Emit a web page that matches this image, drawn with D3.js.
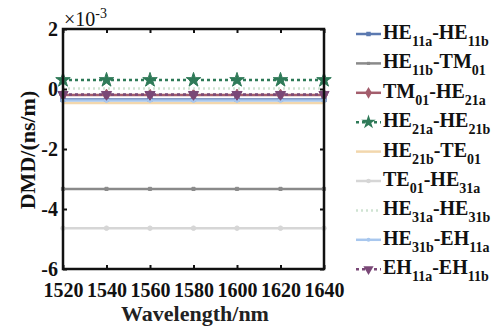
<!DOCTYPE html>
<html>
<head>
<meta charset="utf-8">
<script src="https://cdn.jsdelivr.net/npm/d3@7"></script>
</head>
<body style="margin:0">
<svg id="chart" width="495" height="330"></svg>
<script>
// wavelength samples (nm) and DMD values (x1e-3 ns/m)
var wavelengths = [1520, 1540, 1560, 1580, 1600, 1620, 1640];
var he11aHe11b = [-0.35, -0.35, -0.35, -0.35, -0.35, -0.35, -0.35];
var he11bTm01 = [-3.33, -3.33, -3.33, -3.33, -3.33, -3.33, -3.33];
var tm01He21a = [-0.2, -0.2, -0.2, -0.2, -0.2, -0.2, -0.2];
var he21aHe21b = [0.3, 0.3, 0.3, 0.3, 0.3, 0.3, 0.3];
var he21bTe01 = [-0.47, -0.47, -0.47, -0.47, -0.47, -0.47, -0.47];
var te01He31a = [-4.64, -4.64, -4.64, -4.64, -4.64, -4.64, -4.64];
var he31aHe31b = [0.02, 0.02, 0.02, 0.02, 0.02, 0.02, 0.02];
var he31bEh11a = [-0.38, -0.38, -0.38, -0.38, -0.38, -0.38, -0.38];
var eh11aEh11b = [-0.18, -0.18, -0.18, -0.18, -0.18, -0.18, -0.18];

// legend names as [mode, subscript, mode, subscript]
var seriesNames = [
  ["HE", "11a", "HE", "11b"],
  ["HE", "11b", "TM", "01"],
  ["TM", "01", "HE", "21a"],
  ["HE", "21a", "HE", "21b"],
  ["HE", "21b", "TE", "01"],
  ["TE", "01", "HE", "31a"],
  ["HE", "31a", "HE", "31b"],
  ["HE", "31b", "EH", "11a"],
  ["EH", "11a", "EH", "11b"]
];
var seriesValues = [he11aHe11b, he11bTm01, tm01He21a, he21aHe21b, he21bTe01,
  te01He31a, he31aHe31b, he31bEh11a, eh11aEh11b];
var yTicks = [-6, -4, -2, 0, 2];

var FONT = "'Liberation Serif'";

var styles = [
  { color: "#5b79b0", dash: null, marker: d3.symbolSquare, size: 20, rot: 0 },
  { color: "#8a8a8a", dash: null, marker: d3.symbolSquare, size: 10, rot: 0 },
  { color: "#a35d6c", dash: null, marker: d3.symbolDiamond, size: 40, rot: 0 },
  { color: "#2f7a58", dash: "3,3", marker: d3.symbolStar, size: 65, rot: 0 },
  { color: "#f2d7ad", dash: null, marker: null, size: 0, rot: 0 },
  { color: "#d6d6d6", dash: null, marker: d3.symbolCircle, size: 16, rot: 0 },
  { color: "#cfe3d2", dash: "2,3", marker: null, size: 0, rot: 0 },
  { color: "#a8c7ee", dash: null, marker: d3.symbolCircle, size: 12, rot: 0 },
  { color: "#7a4877", dash: "3,3", marker: d3.symbolTriangle, size: 45, rot: 180 }
];

var margin = { top: 29, right: 171, bottom: 61, left: 63 },
  width = 495 - margin.left - margin.right,
  height = 330 - margin.top - margin.bottom;

var svg = d3.select("#chart");
var g = svg.append("g")
  .attr("transform", "translate(" + margin.left + "," + margin.top + ")");

var x = d3.scaleLinear().domain([1520, 1640]).range([0, width]);
var y = d3.scaleLinear().domain([-6, 2]).range([height, 0]);

var line = d3.line()
  .x(function (d) { return x(d[0]); })
  .y(function (d) { return y(d[1]); });

seriesValues.forEach(function (vals, i) {
  var st = styles[i];
  var pts = wavelengths.map(function (w, j) { return [w, vals[j]]; });
  g.append("path")
    .datum(pts)
    .attr("d", line)
    .style("fill", "none")
    .style("stroke", st.color)
    .style("stroke-width", 2.5)
    .style("stroke-dasharray", st.dash);
  if (st.marker) {
    g.selectAll(".m" + i)
      .data(pts)
      .enter()
      .append("path")
      .attr("class", "m" + i)
      .attr("d", d3.symbol().type(st.marker).size(st.size))
      .attr("transform", function (d) {
        return "translate(" + x(d[0]) + "," + y(d[1]) + ") rotate(" + st.rot + ")";
      })
      .style("fill", st.color)
      .style("stroke", st.color)
      .style("stroke-width", 1);
  }
});

// axes with inward ticks
var xAxis = g.append("g")
  .attr("transform", "translate(0," + height + ")")
  .call(d3.axisBottom(x).tickValues(wavelengths).tickSizeInner(-4).tickSizeOuter(0).tickFormat(d3.format("d")));
xAxis.selectAll("text").attr("y", 28).attr("dy", 0);

var yAxis = g.append("g")
  .call(d3.axisLeft(y).tickValues(yTicks).tickSizeInner(-4).tickSizeOuter(0).tickFormat(function (d) { return d; }));
yAxis.selectAll("text").attr("x", -5).attr("dy", "0.3em");

g.append("g")
  .call(d3.axisTop(x).tickValues(wavelengths).tickSizeInner(-4).tickSizeOuter(0).tickFormat(""));
g.append("g")
  .attr("transform", "translate(" + width + ",0)")
  .call(d3.axisRight(y).tickValues(yTicks).tickSizeInner(-4).tickSizeOuter(0).tickFormat(""));

g.selectAll(".domain").remove();
g.selectAll("g").attr("font-family", null);
g.selectAll(".tick line").style("stroke", "#111").style("stroke-width", 2);
g.selectAll(".tick text")
  .style("font-family", FONT)
  .style("font-weight", "bold")
  .style("font-size", "20px")
  .style("fill", "#111");

g.append("rect")
  .attr("width", width)
  .attr("height", height)
  .style("fill", "none")
  .style("stroke", "#111")
  .style("stroke-width", 2.5);

// exponent label
var expo = svg.append("text")
  .attr("x", 64)
  .attr("y", 26)
  .style("font-family", FONT)
  .style("font-size", "20px")
  .style("fill", "#111");
expo.append("tspan").text("\u00d710");
expo.append("tspan").attr("dy", -8).style("font-size", "14px").text("-3");

svg.append("text")
  .attr("transform", "translate(35,150) rotate(-90)")
  .attr("text-anchor", "middle")
  .style("font-family", FONT)
  .style("font-weight", "bold")
  .style("font-size", "22px")
  .style("fill", "#111")
  .text("DMD/(ns/m)");

svg.append("text")
  .attr("x", 195)
  .attr("y", 321)
  .attr("text-anchor", "middle")
  .style("font-family", FONT)
  .style("font-weight", "bold")
  .style("font-size", "22px")
  .style("fill", "#222")
  .text("Wavelength/nm");

// legend
var legend = svg.append("g").attr("transform", "translate(356,34)");
seriesNames.forEach(function (name, i) {
  var st = styles[i];
  var row = legend.append("g").attr("transform", "translate(0," + (i * 29.4) + ")");
  row.append("line")
    .attr("x1", 0).attr("x2", 25)
    .style("stroke", st.color)
    .style("stroke-width", 2.5)
    .style("stroke-dasharray", st.dash);
  if (st.marker) {
    row.append("path")
      .attr("d", d3.symbol().type(st.marker).size(st.size))
      .attr("transform", "translate(12.5,0) rotate(" + st.rot + ")")
      .style("fill", st.color);
  }
  var t = row.append("text")
    .attr("x", 27).attr("y", 5)
    .style("font-family", FONT)
    .style("font-weight", "bold")
    .style("font-size", "20px")
    .style("fill", "#111");
  t.append("tspan").text(name[0]);
  t.append("tspan").attr("dy", 7).style("font-size", "14px").text(name[1]);
  t.append("tspan").attr("dy", -7).text("-" + name[2]);
  t.append("tspan").attr("dy", 7).style("font-size", "14px").text(name[3]);
});
</script>
</body>
</html>
